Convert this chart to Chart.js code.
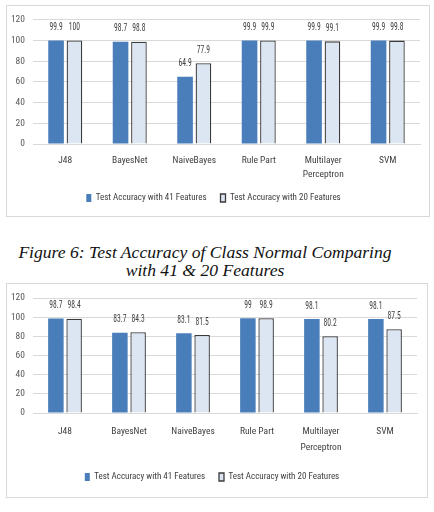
<!DOCTYPE html>
<html><head><meta charset="utf-8">
<script src="https://cdn.jsdelivr.net/npm/chart.js@4.4.0/dist/chart.umd.min.js"></script>
<style>
html,body{margin:0;padding:0;background:#fff;width:434px;height:512px;overflow:hidden;position:relative}
.box{position:absolute;border:1px solid #d9d9d9;box-sizing:border-box;background:#fff}
.box .w{position:absolute;left:0;top:0}
.cap{position:absolute;left:0;width:410px;text-align:center;font-family:"Liberation Serif","Times New Roman",serif;font-style:italic;font-size:17.6px;line-height:18px;color:#111;top:243px}
</style></head><body>
<div class="box" style="left:6px;top:5px;width:424px;height:212px"><div class="w" style="width:422px;height:210px"><canvas id="c1"></canvas></div></div>
<div class="cap">Figure 6: Test Accuracy of Class Normal Comparing<br>with 41 &amp; 20 Features</div>
<div class="box" style="left:6px;top:283px;width:422px;height:215px"><div class="w" style="width:420px;height:213px"><canvas id="c2"></canvas></div></div>
<script>
const categories = ["J48", "BayesNet", "NaiveBayes", "Rule Part", ["Multilayer", "Perceptron"], "SVM"];
const seriesNames = ["Test Accuracy with 41 Features", "Test Accuracy with 20 Features"];
const yTicks = [0, 20, 40, 60, 80, 100, 120];
const normal41 = [99.9, 98.7, 64.9, 99.9, 99.9, 99.9];
const normal20 = [100, 98.8, 77.9, 99.9, 99.1, 99.8];
const second41 = [98.7, 83.7, 83.1, 99, 98.1, 98.1];
const second20 = [98.4, 84.3, 81.5, 98.9, 80.2, 87.5];

const FONT = "'Roboto Condensed','Liberation Sans Narrow',sans-serif";
const FS = 9.5;

const valueLabels = {
  id: 'valueLabels',
  afterDatasetsDraw(chart) {
    const ctx = chart.ctx;
    chart.data.datasets.forEach((ds, i) => {
      chart.getDatasetMeta(i).data.forEach((bar, j) => {
        ctx.save();
        ctx.font = "10.5px " + FONT;
        ctx.fillStyle = "#404040";
        ctx.textAlign = "center";
        ctx.textBaseline = "middle";
        ctx.translate(bar.x, bar.y - 13);
        ctx.scale(0.72, 1);
        ctx.fillText(String(ds.data[j]), 0, 0);
        ctx.restore();
      });
    });
  }
};

function make(id, d41, d20, cfg) {
  return new Chart(document.getElementById(id), {
    type: 'bar',
    data: {
      labels: categories,
      datasets: [
        {label: seriesNames[0], data: d41, backgroundColor: '#4a7ebb', borderWidth: 0,
         categoryPercentage: 0.57, barPercentage: 0.85},
        {label: seriesNames[1], data: d20, backgroundColor: '#dce6f2', borderColor: '#3a3a3a', borderWidth: 1.3,
         categoryPercentage: 0.57, barPercentage: 0.85}
      ]
    },
    options: {
      responsive: true, maintainAspectRatio: false, animation: false,
      layout: {padding: {top: cfg.top, right: cfg.right, bottom: cfg.bottom, left: 0}},
      plugins: {
        tooltip: {enabled: false},
        legend: {
          position: 'bottom',
          labels: {boxWidth: 5, boxHeight: 8, padding: 14, color: '#404040',
                   font: {size: 9, family: FONT}}
        }
      },
      scales: {
        x: {
          grid: {display: false, drawTicks: false},
          border: {display: true, color: '#d9d9d9'},
          ticks: {color: '#404040', padding: cfg.xpad, maxRotation: 0, autoSkip: false,
                  font: {size: FS, family: FONT, lineHeight: cfg.lh}},
          afterFit(s) { s.height = cfg.xh; }
        },
        y: {
          min: 0, max: 120,
          afterBuildTicks(s) { s.ticks = yTicks.map(v => ({value: v})); },
          grid: {color: '#d9d9d9', drawTicks: false},
          border: {display: false},
          ticks: {color: '#595959', padding: 8, font: {size: FS, family: FONT}},
          afterFit(s) { s.width = 26; }
        }
      }
    },
    plugins: [valueLabels]
  });
}
make('c1', normal41, normal20, {top: 12, right: 9, bottom: 3.5, xh: 35.5, xpad: 9, lh: 1.55});
make('c2', second41, second20, {top: 14, right: 10, bottom: 5.5, xh: 45.5, xpad: 11, lh: 1.65});
</script>
</body></html>
